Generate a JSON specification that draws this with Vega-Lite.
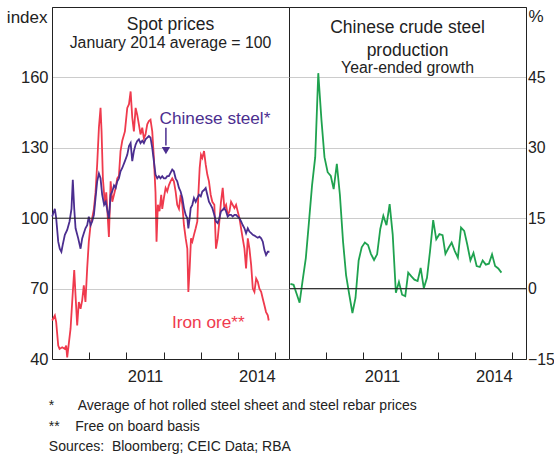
{
  "$schema": "https://vega.github.io/schema/vega-lite/v6.json",
  "padding": {"left": 5, "top": 6, "right": 0, "bottom": 0},
  "background": "white",
  "spacing": 0,
  "bounds": "flush",
  "config": {
    "font": "Liberation Sans",
    "view": {"stroke": "#222", "strokeWidth": 1},
    "axis": {
      "labelFont": "Liberation Sans", "labelColor": "#222", "labelFontSize": 16.5,
      "titleFont": "Liberation Sans", "titleFontWeight": "normal", "titleColor": "#222",
      "gridColor": "#cccccc", "gridWidth": 1, "domainColor": "#222", "tickColor": "#222"
    },
    "title": {"font": "Liberation Sans", "subtitleFont": "Liberation Sans", "fontWeight": "normal", "color": "#222", "subtitleColor": "#222"}
  },
  "title": {
    "text": ["*\u00a0\u00a0\u00a0\u00a0\u00a0\u00a0Average of hot rolled steel sheet and steel rebar prices", "**\u00a0\u00a0\u00a0\u00a0Free on board basis", "Sources:\u00a0\u00a0Bloomberg; CEIC Data; RBA"],
    "orient": "bottom", "anchor": "start", "frame": "bounds", "fontSize": 14, "fontWeight": "normal", "lineHeight": 20.5, "dx": 43, "offset": 14, "color": "#222"
  },
  "datasets": {
    "prices": [
      {"date": "2009-01-03", "series": "Iron ore", "value": 56.4},
      {"date": "2009-01-29", "series": "Iron ore", "value": 58.6},
      {"date": "2009-02-11", "series": "Iron ore", "value": 55.7},
      {"date": "2009-03-03", "series": "Iron ore", "value": 45.7},
      {"date": "2009-03-16", "series": "Iron ore", "value": 44.3},
      {"date": "2009-04-11", "series": "Iron ore", "value": 45},
      {"date": "2009-05-07", "series": "Iron ore", "value": 44.3},
      {"date": "2009-05-20", "series": "Iron ore", "value": 45.7},
      {"date": "2009-05-30", "series": "Iron ore", "value": 40.7},
      {"date": "2009-06-16", "series": "Iron ore", "value": 47},
      {"date": "2009-07-02", "series": "Iron ore", "value": 52.9},
      {"date": "2009-07-18", "series": "Iron ore", "value": 64.3},
      {"date": "2009-08-07", "series": "Iron ore", "value": 77.9},
      {"date": "2009-08-20", "series": "Iron ore", "value": 67},
      {"date": "2009-09-05", "series": "Iron ore", "value": 54.3},
      {"date": "2009-09-21", "series": "Iron ore", "value": 64.3},
      {"date": "2009-10-08", "series": "Iron ore", "value": 61.4},
      {"date": "2009-10-24", "series": "Iron ore", "value": 65},
      {"date": "2009-11-09", "series": "Iron ore", "value": 71.4},
      {"date": "2009-11-25", "series": "Iron ore", "value": 64.3},
      {"date": "2009-12-12", "series": "Iron ore", "value": 78.6},
      {"date": "2009-12-28", "series": "Iron ore", "value": 90},
      {"date": "2010-01-14", "series": "Iron ore", "value": 97},
      {"date": "2010-01-30", "series": "Iron ore", "value": 100},
      {"date": "2010-02-16", "series": "Iron ore", "value": 104},
      {"date": "2010-03-04", "series": "Iron ore", "value": 111},
      {"date": "2010-03-20", "series": "Iron ore", "value": 123},
      {"date": "2010-04-06", "series": "Iron ore", "value": 138.6},
      {"date": "2010-04-22", "series": "Iron ore", "value": 147},
      {"date": "2010-05-02", "series": "Iron ore", "value": 137},
      {"date": "2010-05-15", "series": "Iron ore", "value": 117},
      {"date": "2010-06-04", "series": "Iron ore", "value": 105.7},
      {"date": "2010-06-17", "series": "Iron ore", "value": 111},
      {"date": "2010-07-01", "series": "Iron ore", "value": 101},
      {"date": "2010-07-13", "series": "Iron ore", "value": 92},
      {"date": "2010-07-30", "series": "Iron ore", "value": 115.7},
      {"date": "2010-08-15", "series": "Iron ore", "value": 107},
      {"date": "2010-09-01", "series": "Iron ore", "value": 110},
      {"date": "2010-09-17", "series": "Iron ore", "value": 112.9},
      {"date": "2010-10-03", "series": "Iron ore", "value": 117},
      {"date": "2010-10-19", "series": "Iron ore", "value": 118},
      {"date": "2010-11-04", "series": "Iron ore", "value": 128.6},
      {"date": "2010-11-21", "series": "Iron ore", "value": 133},
      {"date": "2010-12-17", "series": "Iron ore", "value": 137},
      {"date": "2011-01-09", "series": "Iron ore", "value": 147},
      {"date": "2011-01-26", "series": "Iron ore", "value": 148.6},
      {"date": "2011-02-11", "series": "Iron ore", "value": 154},
      {"date": "2011-02-27", "series": "Iron ore", "value": 142.9},
      {"date": "2011-03-15", "series": "Iron ore", "value": 137},
      {"date": "2011-04-01", "series": "Iron ore", "value": 147},
      {"date": "2011-04-17", "series": "Iron ore", "value": 144},
      {"date": "2011-05-03", "series": "Iron ore", "value": 140},
      {"date": "2011-05-19", "series": "Iron ore", "value": 135.7},
      {"date": "2011-06-05", "series": "Iron ore", "value": 138.6},
      {"date": "2011-06-21", "series": "Iron ore", "value": 134},
      {"date": "2011-07-07", "series": "Iron ore", "value": 135.7},
      {"date": "2011-07-24", "series": "Iron ore", "value": 140},
      {"date": "2011-08-09", "series": "Iron ore", "value": 141.4},
      {"date": "2011-08-25", "series": "Iron ore", "value": 142},
      {"date": "2011-09-11", "series": "Iron ore", "value": 137},
      {"date": "2011-09-27", "series": "Iron ore", "value": 125.7},
      {"date": "2011-10-13", "series": "Iron ore", "value": 111},
      {"date": "2011-10-23", "series": "Iron ore", "value": 90},
      {"date": "2011-11-05", "series": "Iron ore", "value": 105.7},
      {"date": "2011-11-21", "series": "Iron ore", "value": 103},
      {"date": "2011-12-08", "series": "Iron ore", "value": 110},
      {"date": "2011-12-18", "series": "Iron ore", "value": 104},
      {"date": "2012-01-03", "series": "Iron ore", "value": 108.6},
      {"date": "2012-01-20", "series": "Iron ore", "value": 112.9},
      {"date": "2012-02-05", "series": "Iron ore", "value": 111.4},
      {"date": "2012-02-21", "series": "Iron ore", "value": 114},
      {"date": "2012-03-08", "series": "Iron ore", "value": 115.7},
      {"date": "2012-03-25", "series": "Iron ore", "value": 117},
      {"date": "2012-04-10", "series": "Iron ore", "value": 115.7},
      {"date": "2012-04-27", "series": "Iron ore", "value": 111.4},
      {"date": "2012-05-13", "series": "Iron ore", "value": 105.7},
      {"date": "2012-05-30", "series": "Iron ore", "value": 104},
      {"date": "2012-06-15", "series": "Iron ore", "value": 110},
      {"date": "2012-07-02", "series": "Iron ore", "value": 105.7},
      {"date": "2012-07-18", "series": "Iron ore", "value": 97},
      {"date": "2012-08-04", "series": "Iron ore", "value": 91.4},
      {"date": "2012-08-20", "series": "Iron ore", "value": 87},
      {"date": "2012-08-30", "series": "Iron ore", "value": 68.6},
      {"date": "2012-09-12", "series": "Iron ore", "value": 78.6},
      {"date": "2012-09-25", "series": "Iron ore", "value": 91.4},
      {"date": "2012-10-08", "series": "Iron ore", "value": 90},
      {"date": "2012-10-24", "series": "Iron ore", "value": 92.9},
      {"date": "2012-11-10", "series": "Iron ore", "value": 95.7},
      {"date": "2012-11-26", "series": "Iron ore", "value": 98.6},
      {"date": "2012-12-06", "series": "Iron ore", "value": 110},
      {"date": "2012-12-19", "series": "Iron ore", "value": 121.4},
      {"date": "2013-01-01", "series": "Iron ore", "value": 127},
      {"date": "2013-01-14", "series": "Iron ore", "value": 125.7},
      {"date": "2013-01-31", "series": "Iron ore", "value": 128.6},
      {"date": "2013-02-16", "series": "Iron ore", "value": 122.9},
      {"date": "2013-03-04", "series": "Iron ore", "value": 118.6},
      {"date": "2013-03-20", "series": "Iron ore", "value": 115.7},
      {"date": "2013-04-06", "series": "Iron ore", "value": 110},
      {"date": "2013-04-22", "series": "Iron ore", "value": 107},
      {"date": "2013-05-12", "series": "Iron ore", "value": 105.7},
      {"date": "2013-05-28", "series": "Iron ore", "value": 87},
      {"date": "2013-06-14", "series": "Iron ore", "value": 91.4},
      {"date": "2013-06-30", "series": "Iron ore", "value": 98.6},
      {"date": "2013-07-16", "series": "Iron ore", "value": 107},
      {"date": "2013-08-02", "series": "Iron ore", "value": 112.9},
      {"date": "2013-08-18", "series": "Iron ore", "value": 104.3},
      {"date": "2013-09-04", "series": "Iron ore", "value": 105.7},
      {"date": "2013-09-20", "series": "Iron ore", "value": 101.4},
      {"date": "2013-10-07", "series": "Iron ore", "value": 102.9},
      {"date": "2013-10-23", "series": "Iron ore", "value": 107},
      {"date": "2013-11-08", "series": "Iron ore", "value": 105.7},
      {"date": "2013-11-25", "series": "Iron ore", "value": 104.3},
      {"date": "2013-12-11", "series": "Iron ore", "value": 105.7},
      {"date": "2013-12-27", "series": "Iron ore", "value": 102.9},
      {"date": "2014-01-13", "series": "Iron ore", "value": 100},
      {"date": "2014-01-29", "series": "Iron ore", "value": 95.7},
      {"date": "2014-02-14", "series": "Iron ore", "value": 91.4},
      {"date": "2014-03-03", "series": "Iron ore", "value": 87},
      {"date": "2014-03-19", "series": "Iron ore", "value": 78.6},
      {"date": "2014-04-05", "series": "Iron ore", "value": 91.4},
      {"date": "2014-04-21", "series": "Iron ore", "value": 87},
      {"date": "2014-05-08", "series": "Iron ore", "value": 80},
      {"date": "2014-05-24", "series": "Iron ore", "value": 70},
      {"date": "2014-06-09", "series": "Iron ore", "value": 68.6},
      {"date": "2014-06-26", "series": "Iron ore", "value": 74.3},
      {"date": "2014-07-12", "series": "Iron ore", "value": 72.9},
      {"date": "2014-07-28", "series": "Iron ore", "value": 70},
      {"date": "2014-08-14", "series": "Iron ore", "value": 68.6},
      {"date": "2014-08-30", "series": "Iron ore", "value": 65.7},
      {"date": "2014-09-15", "series": "Iron ore", "value": 62.9},
      {"date": "2014-10-01", "series": "Iron ore", "value": 60},
      {"date": "2014-10-18", "series": "Iron ore", "value": 58.6},
      {"date": "2014-10-27", "series": "Iron ore", "value": 56.4},
      {"date": "2009-01-03", "series": "Chinese steel", "value": 100.7},
      {"date": "2009-01-29", "series": "Chinese steel", "value": 104},
      {"date": "2009-02-11", "series": "Chinese steel", "value": 100},
      {"date": "2009-03-03", "series": "Chinese steel", "value": 90},
      {"date": "2009-03-18", "series": "Chinese steel", "value": 87},
      {"date": "2009-04-03", "series": "Chinese steel", "value": 85.7},
      {"date": "2009-04-16", "series": "Chinese steel", "value": 88.6},
      {"date": "2009-05-07", "series": "Chinese steel", "value": 92.9},
      {"date": "2009-05-30", "series": "Chinese steel", "value": 95},
      {"date": "2009-06-22", "series": "Chinese steel", "value": 98.6},
      {"date": "2009-07-11", "series": "Chinese steel", "value": 104},
      {"date": "2009-07-24", "series": "Chinese steel", "value": 116.4},
      {"date": "2009-08-07", "series": "Chinese steel", "value": 104},
      {"date": "2009-08-20", "series": "Chinese steel", "value": 95.7},
      {"date": "2009-09-15", "series": "Chinese steel", "value": 91.4},
      {"date": "2009-10-08", "series": "Chinese steel", "value": 87},
      {"date": "2009-10-24", "series": "Chinese steel", "value": 91.4},
      {"date": "2009-11-09", "series": "Chinese steel", "value": 93.6},
      {"date": "2009-11-25", "series": "Chinese steel", "value": 95.7},
      {"date": "2009-12-12", "series": "Chinese steel", "value": 97},
      {"date": "2009-12-28", "series": "Chinese steel", "value": 100.7},
      {"date": "2010-01-14", "series": "Chinese steel", "value": 97},
      {"date": "2010-01-30", "series": "Chinese steel", "value": 98.6},
      {"date": "2010-02-16", "series": "Chinese steel", "value": 101.4},
      {"date": "2010-03-04", "series": "Chinese steel", "value": 108.6},
      {"date": "2010-03-20", "series": "Chinese steel", "value": 115.7},
      {"date": "2010-04-06", "series": "Chinese steel", "value": 119},
      {"date": "2010-04-22", "series": "Chinese steel", "value": 117},
      {"date": "2010-05-08", "series": "Chinese steel", "value": 110},
      {"date": "2010-05-27", "series": "Chinese steel", "value": 105.7},
      {"date": "2010-06-12", "series": "Chinese steel", "value": 107},
      {"date": "2010-06-29", "series": "Chinese steel", "value": 103},
      {"date": "2010-07-13", "series": "Chinese steel", "value": 100},
      {"date": "2010-07-30", "series": "Chinese steel", "value": 110},
      {"date": "2010-08-15", "series": "Chinese steel", "value": 111.4},
      {"date": "2010-09-01", "series": "Chinese steel", "value": 114},
      {"date": "2010-09-17", "series": "Chinese steel", "value": 112.9},
      {"date": "2010-10-03", "series": "Chinese steel", "value": 115.7},
      {"date": "2010-10-19", "series": "Chinese steel", "value": 117},
      {"date": "2010-11-04", "series": "Chinese steel", "value": 120},
      {"date": "2010-11-21", "series": "Chinese steel", "value": 121.4},
      {"date": "2010-12-17", "series": "Chinese steel", "value": 124.3},
      {"date": "2011-01-09", "series": "Chinese steel", "value": 127},
      {"date": "2011-01-26", "series": "Chinese steel", "value": 130.7},
      {"date": "2011-02-11", "series": "Chinese steel", "value": 132},
      {"date": "2011-02-27", "series": "Chinese steel", "value": 124.3},
      {"date": "2011-03-15", "series": "Chinese steel", "value": 128.6},
      {"date": "2011-04-01", "series": "Chinese steel", "value": 131.4},
      {"date": "2011-04-17", "series": "Chinese steel", "value": 132.9},
      {"date": "2011-05-03", "series": "Chinese steel", "value": 133.6},
      {"date": "2011-05-19", "series": "Chinese steel", "value": 132},
      {"date": "2011-06-05", "series": "Chinese steel", "value": 133},
      {"date": "2011-06-21", "series": "Chinese steel", "value": 132},
      {"date": "2011-07-07", "series": "Chinese steel", "value": 133.6},
      {"date": "2011-07-24", "series": "Chinese steel", "value": 134.3},
      {"date": "2011-08-09", "series": "Chinese steel", "value": 135},
      {"date": "2011-08-25", "series": "Chinese steel", "value": 134.3},
      {"date": "2011-09-11", "series": "Chinese steel", "value": 130},
      {"date": "2011-09-27", "series": "Chinese steel", "value": 124.3},
      {"date": "2011-10-13", "series": "Chinese steel", "value": 118.6},
      {"date": "2011-10-30", "series": "Chinese steel", "value": 117},
      {"date": "2011-11-15", "series": "Chinese steel", "value": 117.9},
      {"date": "2011-12-01", "series": "Chinese steel", "value": 117},
      {"date": "2011-12-18", "series": "Chinese steel", "value": 117.9},
      {"date": "2012-01-03", "series": "Chinese steel", "value": 117},
      {"date": "2012-01-20", "series": "Chinese steel", "value": 117},
      {"date": "2012-02-05", "series": "Chinese steel", "value": 117.9},
      {"date": "2012-02-21", "series": "Chinese steel", "value": 117.9},
      {"date": "2012-03-08", "series": "Chinese steel", "value": 119.3},
      {"date": "2012-03-25", "series": "Chinese steel", "value": 120.7},
      {"date": "2012-04-10", "series": "Chinese steel", "value": 120},
      {"date": "2012-04-27", "series": "Chinese steel", "value": 117},
      {"date": "2012-05-13", "series": "Chinese steel", "value": 115.7},
      {"date": "2012-05-30", "series": "Chinese steel", "value": 112.9},
      {"date": "2012-06-15", "series": "Chinese steel", "value": 111.4},
      {"date": "2012-07-02", "series": "Chinese steel", "value": 108.6},
      {"date": "2012-07-18", "series": "Chinese steel", "value": 104.3},
      {"date": "2012-08-04", "series": "Chinese steel", "value": 101.4},
      {"date": "2012-08-20", "series": "Chinese steel", "value": 100},
      {"date": "2012-08-30", "series": "Chinese steel", "value": 95.7},
      {"date": "2012-09-12", "series": "Chinese steel", "value": 100},
      {"date": "2012-09-22", "series": "Chinese steel", "value": 104.3},
      {"date": "2012-10-08", "series": "Chinese steel", "value": 105.7},
      {"date": "2012-10-24", "series": "Chinese steel", "value": 108.6},
      {"date": "2012-11-10", "series": "Chinese steel", "value": 107},
      {"date": "2012-11-26", "series": "Chinese steel", "value": 108.6},
      {"date": "2012-12-12", "series": "Chinese steel", "value": 110},
      {"date": "2012-12-30", "series": "Chinese steel", "value": 109.3},
      {"date": "2013-01-14", "series": "Chinese steel", "value": 111.4},
      {"date": "2013-01-31", "series": "Chinese steel", "value": 112},
      {"date": "2013-02-16", "series": "Chinese steel", "value": 112.9},
      {"date": "2013-03-04", "series": "Chinese steel", "value": 110},
      {"date": "2013-03-20", "series": "Chinese steel", "value": 107},
      {"date": "2013-04-06", "series": "Chinese steel", "value": 105.7},
      {"date": "2013-04-22", "series": "Chinese steel", "value": 104.3},
      {"date": "2013-05-12", "series": "Chinese steel", "value": 101.4},
      {"date": "2013-05-28", "series": "Chinese steel", "value": 98.6},
      {"date": "2013-06-14", "series": "Chinese steel", "value": 97.9},
      {"date": "2013-06-30", "series": "Chinese steel", "value": 100},
      {"date": "2013-07-16", "series": "Chinese steel", "value": 102.9},
      {"date": "2013-08-02", "series": "Chinese steel", "value": 103.6},
      {"date": "2013-08-18", "series": "Chinese steel", "value": 104.3},
      {"date": "2013-09-04", "series": "Chinese steel", "value": 102.9},
      {"date": "2013-09-20", "series": "Chinese steel", "value": 100.7},
      {"date": "2013-10-07", "series": "Chinese steel", "value": 101.4},
      {"date": "2013-10-23", "series": "Chinese steel", "value": 101.4},
      {"date": "2013-11-08", "series": "Chinese steel", "value": 100.7},
      {"date": "2013-11-25", "series": "Chinese steel", "value": 101.4},
      {"date": "2013-12-11", "series": "Chinese steel", "value": 101.4},
      {"date": "2013-12-27", "series": "Chinese steel", "value": 100.7},
      {"date": "2014-01-13", "series": "Chinese steel", "value": 100},
      {"date": "2014-01-29", "series": "Chinese steel", "value": 98.6},
      {"date": "2014-02-14", "series": "Chinese steel", "value": 97.1},
      {"date": "2014-03-03", "series": "Chinese steel", "value": 95.7},
      {"date": "2014-03-19", "series": "Chinese steel", "value": 93.6},
      {"date": "2014-04-05", "series": "Chinese steel", "value": 95.7},
      {"date": "2014-04-21", "series": "Chinese steel", "value": 94.3},
      {"date": "2014-05-08", "series": "Chinese steel", "value": 93.6},
      {"date": "2014-05-24", "series": "Chinese steel", "value": 92.9},
      {"date": "2014-06-09", "series": "Chinese steel", "value": 92.6},
      {"date": "2014-06-26", "series": "Chinese steel", "value": 92.1},
      {"date": "2014-07-12", "series": "Chinese steel", "value": 91.7},
      {"date": "2014-07-28", "series": "Chinese steel", "value": 92.1},
      {"date": "2014-08-14", "series": "Chinese steel", "value": 91.4},
      {"date": "2014-08-30", "series": "Chinese steel", "value": 90},
      {"date": "2014-09-15", "series": "Chinese steel", "value": 86.4},
      {"date": "2014-10-01", "series": "Chinese steel", "value": 84.3},
      {"date": "2014-10-18", "series": "Chinese steel", "value": 85.7},
      {"date": "2014-11-03", "series": "Chinese steel", "value": 85.7}
    ],
    "steel": [
      {"date": "2009-01-15", "growth": 1.0},
      {"date": "2009-02-15", "growth": 0.8},
      {"date": "2009-03-15", "growth": -1.0},
      {"date": "2009-04-15", "growth": -3.0},
      {"date": "2009-05-15", "growth": 1.8},
      {"date": "2009-06-15", "growth": 6.5},
      {"date": "2009-07-15", "growth": 14},
      {"date": "2009-08-15", "growth": 22},
      {"date": "2009-09-15", "growth": 28},
      {"date": "2009-10-15", "growth": 45.9},
      {"date": "2009-11-15", "growth": 36},
      {"date": "2009-12-15", "growth": 28},
      {"date": "2010-01-15", "growth": 24.8},
      {"date": "2010-02-15", "growth": 24},
      {"date": "2010-03-15", "growth": 21.2},
      {"date": "2010-04-15", "growth": 26.6},
      {"date": "2010-05-15", "growth": 20},
      {"date": "2010-06-15", "growth": 10},
      {"date": "2010-07-15", "growth": 2.8},
      {"date": "2010-08-15", "growth": -1.3},
      {"date": "2010-09-15", "growth": -5.2},
      {"date": "2010-10-15", "growth": -2},
      {"date": "2010-11-15", "growth": 6},
      {"date": "2010-12-15", "growth": 8.8},
      {"date": "2011-01-15", "growth": 9.8},
      {"date": "2011-02-15", "growth": 9.3},
      {"date": "2011-03-15", "growth": 7.4},
      {"date": "2011-04-15", "growth": 6.1},
      {"date": "2011-05-15", "growth": 7.3},
      {"date": "2011-06-15", "growth": 12.7},
      {"date": "2011-07-15", "growth": 15.5},
      {"date": "2011-08-15", "growth": 13.5},
      {"date": "2011-09-15", "growth": 18},
      {"date": "2011-10-15", "growth": 11.5},
      {"date": "2011-11-15", "growth": -0.9},
      {"date": "2011-12-15", "growth": 1.4},
      {"date": "2012-01-15", "growth": -1.3},
      {"date": "2012-02-15", "growth": -1.6},
      {"date": "2012-03-15", "growth": 3.4},
      {"date": "2012-04-15", "growth": 2.6},
      {"date": "2012-05-15", "growth": 1.9},
      {"date": "2012-06-15", "growth": 1.6},
      {"date": "2012-07-15", "growth": 4.4},
      {"date": "2012-08-15", "growth": 0.1},
      {"date": "2012-09-15", "growth": 2.3},
      {"date": "2012-10-15", "growth": 8},
      {"date": "2012-11-15", "growth": 14.6},
      {"date": "2012-12-15", "growth": 10.5},
      {"date": "2013-01-15", "growth": 11.6},
      {"date": "2013-02-15", "growth": 11.4},
      {"date": "2013-03-15", "growth": 7.4},
      {"date": "2013-04-15", "growth": 8.7},
      {"date": "2013-05-15", "growth": 9.8},
      {"date": "2013-06-15", "growth": 8},
      {"date": "2013-07-15", "growth": 6.6},
      {"date": "2013-08-15", "growth": 13},
      {"date": "2013-09-15", "growth": 12.3},
      {"date": "2013-10-15", "growth": 9.4},
      {"date": "2013-11-15", "growth": 6},
      {"date": "2013-12-15", "growth": 7.6},
      {"date": "2014-01-15", "growth": 4.8},
      {"date": "2014-02-15", "growth": 4.6},
      {"date": "2014-03-15", "growth": 6},
      {"date": "2014-04-15", "growth": 5.1},
      {"date": "2014-05-15", "growth": 5.3},
      {"date": "2014-06-15", "growth": 7.3},
      {"date": "2014-07-15", "growth": 4.8},
      {"date": "2014-08-15", "growth": 4.3},
      {"date": "2014-09-15", "growth": 3.4}
    ],
    "labels": [
      {"date": "2013-05-18", "value": 140.2, "label": "Chinese steel*", "series": "Chinese steel"},
      {"date": "2013-03-14", "value": 53.2, "label": "Iron ore**", "series": "Iron ore"}
    ],
    "arrow": [
      {"date": "2012-01-23", "top": 138.5, "bottom": 131, "tip": 128.8}
    ]
  },
  "hconcat": [
    {
      "width": 237,
      "height": 352,
      "title": {"text": "Spot prices", "subtitle": "January 2014 average = 100", "offset": -44, "fontSize": 17.5, "subtitleFontSize": 15.8, "subtitlePadding": 3, "anchor": "middle"},
      "layer": [
        {
          "data": {"name": "prices"},
          "transform": [{"filter": "datum.series === 'Iron ore'"}],
          "mark": {"type": "line", "color": "#ef3a4d", "strokeWidth": 1.8},
          "encoding": {
            "x": {"field": "date", "type": "temporal",
              "scale": {"type": "utc", "domain": [{"year": 2009, "month": 1, "date": 1, "utc": true}, {"year": 2015, "month": 5, "date": 14, "utc": true}]},
              "axis": {"title": null, "grid": false, "tickSize": -7, "labelPadding": 16, "labelOffset": 18.6, "labelOverlap": false, "labelFlush": false, "labelBound": false,
                "values": [{"year": 2010, "month": 1, "date": 1, "utc": true}, {"year": 2011, "month": 1, "date": 1, "utc": true}, {"year": 2012, "month": 1, "date": 1, "utc": true}, {"year": 2013, "month": 1, "date": 1, "utc": true}, {"year": 2014, "month": 1, "date": 1, "utc": true}, {"year": 2015, "month": 1, "date": 1, "utc": true}],
                "labelExpr": "(utcyear(datum.value) === 2011 || utcyear(datum.value) === 2014) ? utcFormat(datum.value, '%Y') : ''"}},
            "y": {"field": "value", "type": "quantitative",
              "scale": {"domain": [40, 190], "nice": false, "zero": false},
              "axis": {"values": [40, 70, 100, 130, 160], "grid": true, "ticks": false, "labelPadding": 4, "labelFontSize": 16.5,
                "title": "index", "titleAngle": 0, "titleAlign": "right", "titleBaseline": "alphabetic", "titleX": -5, "titleY": 15, "titleFontSize": 17}}
          }
        },
        {
          "data": {"name": "prices"},
          "transform": [{"filter": "datum.series === 'Chinese steel'"}],
          "mark": {"type": "line", "color": "#4b2e8f", "strokeWidth": 1.8},
          "encoding": {
            "x": {"field": "date", "type": "temporal"},
            "y": {"field": "value", "type": "quantitative"}
          }
        },
        {
          "data": {"values": [{"v": 100}]},
          "mark": {"type": "rule", "color": "#222", "strokeWidth": 1},
          "encoding": {"y": {"field": "v", "type": "quantitative"}}
        },
        {
          "data": {"name": "arrow"},
          "mark": {"type": "rule", "color": "#4b2e8f", "strokeWidth": 1.5},
          "encoding": {
            "x": {"field": "date", "type": "temporal"},
            "y": {"field": "top", "type": "quantitative"},
            "y2": {"field": "bottom"}
          }
        },
        {
          "data": {"name": "arrow"},
          "mark": {"type": "point", "shape": "triangle-down", "filled": true, "color": "#4b2e8f", "size": 70, "opacity": 1},
          "encoding": {
            "x": {"field": "date", "type": "temporal"},
            "y": {"field": "tip", "type": "quantitative"}
          }
        },
        {
          "data": {"name": "labels"},
          "mark": {"type": "text", "fontSize": 17.2, "align": "center", "baseline": "alphabetic", "font": "Liberation Sans"},
          "encoding": {
            "x": {"field": "date", "type": "temporal"},
            "y": {"field": "value", "type": "quantitative"},
            "text": {"field": "label"},
            "color": {"field": "series", "type": "nominal", "scale": {"domain": ["Chinese steel", "Iron ore"], "range": ["#4b2e8f", "#ef3a4d"]}, "legend": null}
          }
        }
      ]
    },
    {
      "width": 237,
      "height": 352,
      "title": {"text": ["Chinese crude steel", "production"], "subtitle": "Year-ended growth", "offset": -69, "fontSize": 17.5, "lineHeight": 23, "subtitleFontSize": 15.8, "subtitlePadding": 2, "anchor": "middle"},
      "layer": [
        {
          "data": {"name": "steel"},
          "mark": {"type": "line", "color": "#1fa24f", "strokeWidth": 1.8},
          "encoding": {
            "x": {"field": "date", "type": "temporal",
              "scale": {"type": "utc", "domain": [{"year": 2009, "month": 1, "date": 1, "utc": true}, {"year": 2015, "month": 5, "date": 14, "utc": true}]},
              "axis": {"title": null, "grid": false, "tickSize": -7, "labelPadding": 16, "labelOffset": 18.6, "labelOverlap": false, "labelFlush": false, "labelBound": false,
                "values": [{"year": 2010, "month": 1, "date": 1, "utc": true}, {"year": 2011, "month": 1, "date": 1, "utc": true}, {"year": 2012, "month": 1, "date": 1, "utc": true}, {"year": 2013, "month": 1, "date": 1, "utc": true}, {"year": 2014, "month": 1, "date": 1, "utc": true}, {"year": 2015, "month": 1, "date": 1, "utc": true}],
                "labelExpr": "(utcyear(datum.value) === 2011 || utcyear(datum.value) === 2014) ? utcFormat(datum.value, '%Y') : ''"}},
            "y": {"field": "growth", "type": "quantitative",
              "scale": {"domain": [-15, 60], "nice": false, "zero": false},
              "axis": {"orient": "right", "values": [-15, 0, 15, 30, 45], "grid": true, "ticks": false, "labelPadding": 1.5, "labelFontSize": 15.8,
                "title": "%", "titleAngle": 0, "titleAlign": "left", "titleBaseline": "alphabetic", "titleX": 2, "titleY": 14, "titleFontSize": 17}}
          }
        },
        {
          "data": {"values": [{"v": 0}]},
          "mark": {"type": "rule", "color": "#222", "strokeWidth": 1},
          "encoding": {"y": {"field": "v", "type": "quantitative"}}
        }
      ]
    }
  ]
}
